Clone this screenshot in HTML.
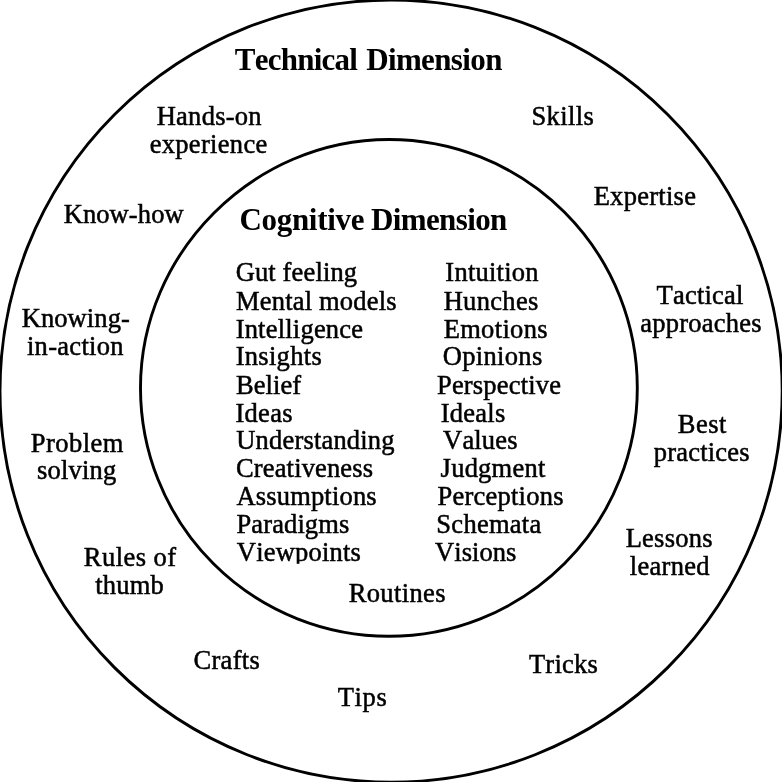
<!DOCTYPE html>
<html lang="en">
<head>
<meta charset="utf-8">
<title>Tacit knowledge: technical and cognitive dimensions</title>
<style>
html,body{margin:0;padding:0;background:#fff;}
body{width:782px;height:782px;overflow:hidden;}
svg{display:block;will-change:transform;filter:grayscale(1);}
text{font-family:"Liberation Serif","Times New Roman",Times,serif;fill:#000;font-kerning:none;white-space:pre;}
.r{font-size:26.5px;stroke:#000;stroke-width:0.5px;}
.b{font-size:31px;font-weight:bold;}
.ring{fill:none;stroke:#000;stroke-width:2.9;}
</style>
</head>
<body>
<svg width="782" height="782" viewBox="0 0 782 782" role="img" aria-label="Technical and cognitive dimensions of tacit knowledge">
<defs><clipPath id="cut"><rect x="0" y="0" width="782" height="563.8"/></clipPath></defs>
<rect width="782" height="782" fill="#fff"/>
<!-- outer ring: technical dimension -->
<circle class="ring" cx="391.1" cy="391.1" r="391.1"/>
<!-- inner ring: cognitive dimension -->
<path class="ring" d="M140.50 387.90 C140.50 252.60 253.60 139.50 388.90 139.50 A248.40 248.40 0 0 1 637.30 387.90 A248.40 248.40 0 0 1 388.90 636.30 A248.40 248.40 0 0 1 140.50 387.90 Z"/>
<g id="headings">
<text class="b"><tspan x="234.79" y="70" textLength="123.14" lengthAdjust="spacing">Technical</tspan> <tspan x="366.16" y="70" textLength="136.23" lengthAdjust="spacing">Dimension</tspan></text>
<text class="b"><tspan x="239.47" y="230" textLength="124.94" lengthAdjust="spacing">Cognitive</tspan> <tspan x="370.98" y="230" textLength="136.37" lengthAdjust="spacing">Dimension</tspan></text>
</g>
<g id="technical">
<text class="r"><tspan x="156.69" y="125" textLength="104.89" lengthAdjust="spacing">Hands-on</tspan> <tspan x="149.68" y="153" textLength="117.54" lengthAdjust="spacing">experience</tspan></text>
<text class="r"><tspan x="531.51" y="125" textLength="62.21" lengthAdjust="spacing">Skills</tspan></text>
<text class="r"><tspan x="593.63" y="205" textLength="102.36" lengthAdjust="spacing">Expertise</tspan></text>
<text class="r"><tspan x="63.65" y="223" textLength="120.02" lengthAdjust="spacing">Know-how</tspan></text>
<text class="r"><tspan x="656.61" y="304" textLength="86.65" lengthAdjust="spacing">Tactical</tspan> <tspan x="640.24" y="332" textLength="121.30" lengthAdjust="spacing">approaches</tspan></text>
<text class="r"><tspan x="21.73" y="327" textLength="108.07" lengthAdjust="spacing">Knowing-</tspan><tspan x="26.92" y="355" textLength="96.65" lengthAdjust="spacing">in-action</tspan></text>
<text class="r"><tspan x="677.71" y="433" textLength="48.77" lengthAdjust="spacing">Best</tspan> <tspan x="653.78" y="461" textLength="95.74" lengthAdjust="spacing">practices</tspan></text>
<text class="r"><tspan x="30.83" y="452" textLength="92.45" lengthAdjust="spacing">Problem</tspan> <tspan x="37.02" y="479" textLength="79.29" lengthAdjust="spacing">solving</tspan></text>
<text class="r"><tspan x="625.69" y="547" textLength="86.83" lengthAdjust="spacing">Lessons</tspan> <tspan x="629.84" y="575" textLength="79.72" lengthAdjust="spacing">learned</tspan></text>
<text class="r"><tspan x="83.77" y="566" textLength="92.34" lengthAdjust="spacing">Rules of</tspan> <tspan x="95.18" y="594" textLength="68.60" lengthAdjust="spacing">thumb</tspan></text>
<text class="r"><tspan x="348.68" y="602" textLength="96.81" lengthAdjust="spacing">Routines</tspan></text>
<text class="r"><tspan x="193.51" y="669" textLength="66.28" lengthAdjust="spacing">Crafts</tspan></text>
<text class="r"><tspan x="528.92" y="673" textLength="68.95" lengthAdjust="spacing">Tricks</tspan></text>
<text class="r"><tspan x="337.64" y="706" textLength="49.22" lengthAdjust="spacing">Tips</tspan></text>
</g>
<g id="cognitive-left">
<text class="r"><tspan x="235.66" y="281" textLength="121.39" lengthAdjust="spacing">Gut feeling</tspan></text>
<text class="r"><tspan x="236.02" y="310" textLength="160.51" lengthAdjust="spacing">Mental models</tspan></text>
<text class="r"><tspan x="235.63" y="338" textLength="127.43" lengthAdjust="spacing">Intelligence</tspan></text>
<text class="r"><tspan x="235.65" y="365" textLength="86.06" lengthAdjust="spacing">Insights</tspan></text>
<text class="r"><tspan x="236.01" y="394" textLength="65.09" lengthAdjust="spacing">Belief</tspan></text>
<text class="r"><tspan x="235.45" y="422" textLength="57.05" lengthAdjust="spacing">Ideas</tspan></text>
<text class="r"><tspan x="236.23" y="449" textLength="158.31" lengthAdjust="spacing">Understanding</tspan></text>
<text class="r"><tspan x="236.02" y="477" textLength="137.01" lengthAdjust="spacing">Creativeness</tspan></text>
<text class="r"><tspan x="236.38" y="505" textLength="140.27" lengthAdjust="spacing">Assumptions</tspan></text>
<text class="r"><tspan x="236.50" y="533" textLength="112.79" lengthAdjust="spacing">Paradigms</tspan></text>
<text class="r" clip-path="url(#cut)"><tspan x="236.81" y="561" textLength="124.01" lengthAdjust="spacing">Viewpoints</tspan></text>
</g>
<g id="cognitive-right">
<text class="r"><tspan x="445.36" y="281" textLength="93.11" lengthAdjust="spacing">Intuition</tspan></text>
<text class="r"><tspan x="443.65" y="310" textLength="94.65" lengthAdjust="spacing">Hunches</tspan></text>
<text class="r"><tspan x="443.63" y="338" textLength="103.95" lengthAdjust="spacing">Emotions</tspan></text>
<text class="r"><tspan x="442.77" y="365" textLength="99.50" lengthAdjust="spacing">Opinions</tspan></text>
<text class="r"><tspan x="436.99" y="394" textLength="123.92" lengthAdjust="spacing">Perspective</tspan></text>
<text class="r"><tspan x="440.64" y="422" textLength="64.62" lengthAdjust="spacing">Ideals</tspan></text>
<text class="r"><tspan x="443.10" y="449" textLength="74.38" lengthAdjust="spacing">Values</tspan></text>
<text class="r"><tspan x="440.61" y="477" textLength="104.69" lengthAdjust="spacing">Judgment</tspan></text>
<text class="r"><tspan x="437.48" y="505" textLength="125.98" lengthAdjust="spacing">Perceptions</tspan></text>
<text class="r"><tspan x="436.35" y="533" textLength="104.90" lengthAdjust="spacing">Schemata</tspan></text>
<text class="r"><tspan x="435.06" y="561" textLength="81.24" lengthAdjust="spacing">Visions</tspan></text>
</g>
</svg>
</body>
</html>
